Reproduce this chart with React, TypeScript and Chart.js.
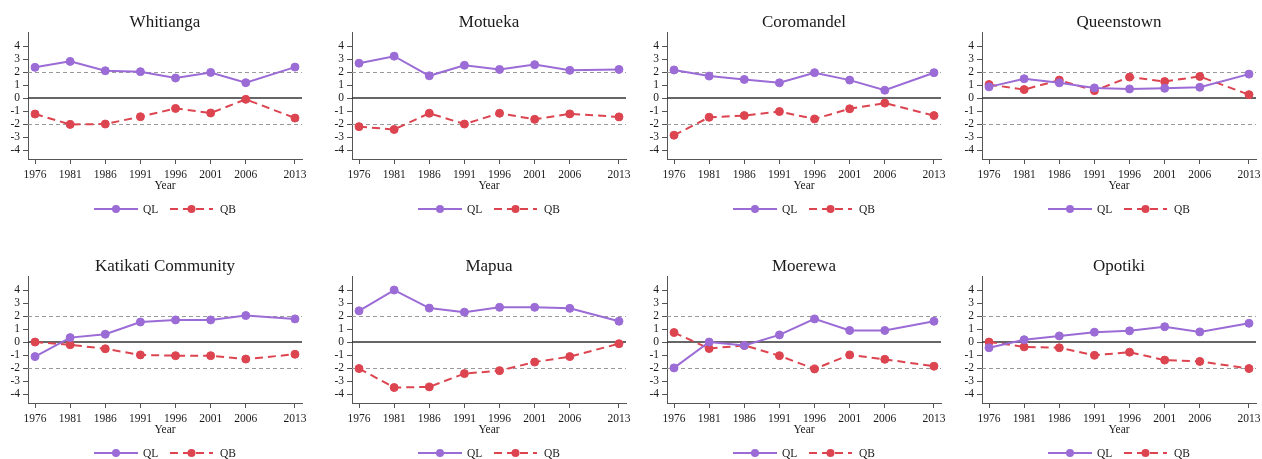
import React, { useEffect, useRef } from "react";
import { Chart, registerables } from "chart.js";

Chart.register(...registerables);

// ---- data ----
const years = [1976, 1981, 1986, 1991, 1996, 2001, 2006, 2013];
const yTickValues = [-4, -3, -2, -1, 0, 1, 2, 3, 4];
const dashedRefs = [-2, 2];
const legendLabels = ["QL", "QB"];
const xTitle = "Year";

const titles = [
  "Whitianga",
  "Motueka",
  "Coromandel",
  "Queenstown",
  "Katikati Community",
  "Mapua",
  "Moerewa",
  "Opotiki",
];

const qlWhitianga = [2.36, 2.82, 2.1, 2.03, 1.54, 1.97, 1.18, 2.38];
const qbWhitianga = [-1.23, -2.03, -2.0, -1.44, -0.8, -1.15, -0.1, -1.54];

const qlMotueka = [2.68, 3.22, 1.71, 2.52, 2.2, 2.57, 2.13, 2.2];
const qbMotueka = [-2.2, -2.42, -1.17, -2.0, -1.17, -1.64, -1.22, -1.45];

const qlCoromandel = [2.16, 1.69, 1.43, 1.17, 1.95, 1.38, 0.6, 1.95];
const qbCoromandel = [-2.86, -1.48, -1.35, -1.04, -1.61, -0.83, -0.39, -1.35];

const qlQueenstown = [0.86, 1.48, 1.17, 0.78, 0.7, 0.75, 0.83, 1.84];
const qbQueenstown = [1.04, 0.65, 1.38, 0.57, 1.61, 1.27, 1.66, 0.26];

const qlKatikati = [-1.12, 0.34, 0.6, 1.54, 1.7, 1.7, 2.04, 1.78];
const qbKatikati = [0, -0.21, -0.52, -0.99, -1.05, -1.05, -1.31, -0.94];

const qlMapua = [2.4, 4.0, 2.61, 2.3, 2.67, 2.67, 2.59, 1.6];
const qbMapua = [-2.04, -3.5, -3.45, -2.43, -2.2, -1.54, -1.12, -0.13];

const qlMoerewa = [-1.99, 0, -0.26, 0.55, 1.78, 0.89, 0.89, 1.6];
const qbMoerewa = [0.73, -0.5, -0.26, -1.05, -2.07, -0.99, -1.33, -1.86];

const qlOpotiki = [-0.44, 0.18, 0.47, 0.76, 0.86, 1.18, 0.78, 1.44];
const qbOpotiki = [0, -0.37, -0.44, -1.02, -0.78, -1.39, -1.49, -2.04];

const qlSeries = [qlWhitianga, qlMotueka, qlCoromandel, qlQueenstown, qlKatikati, qlMapua, qlMoerewa, qlOpotiki];
const qbSeries = [qbWhitianga, qbMotueka, qbCoromandel, qbQueenstown, qbKatikati, qbMapua, qbMoerewa, qbOpotiki];

// ---- styles ----
const PURPLE = "#9b6bd6";
const RED = "#dc4450";
const AXIS = "#555555";
const TEXT = "#1a1a1a";
const FONT_FAMILY = '"Liberation Serif", "Times New Roman", serif';
const QB_DASH = [8, 5];

const CANVAS_W = 315;
const CANVAS_H = 215;
const chartLefts = [28, 352, 667, 982];
const rowTops = [0, 244];
const Y_AXIS_W = 28;
const X_AXIS_H = 34;

function makePlugins(title: string) {
  const refLines = {
    id: "refLines",
    beforeDatasetsDraw(chart: any) {
      const { ctx, chartArea, scales } = chart;
      const y = scales.y;
      ctx.save();
      ctx.lineWidth = 1;
      ctx.strokeStyle = "#9a9a9a";
      ctx.setLineDash([4, 3]);
      dashedRefs.forEach((v) => {
        const py = Math.round(y.getPixelForValue(v)) + 0.5;
        ctx.beginPath();
        ctx.moveTo(chartArea.left, py);
        ctx.lineTo(chartArea.right, py);
        ctx.stroke();
      });
      ctx.setLineDash([]);
      ctx.strokeStyle = "#333333";
      ctx.lineWidth = 1.5;
      const p0 = y.getPixelForValue(0);
      ctx.beginPath();
      ctx.moveTo(chartArea.left, p0);
      ctx.lineTo(chartArea.right, p0);
      ctx.stroke();
      ctx.restore();
    },
  };
  const titleAndLegend = {
    id: "titleLegend",
    afterDraw(chart: any) {
      const { ctx, chartArea } = chart;
      const cx = (chartArea.left + chartArea.right) / 2;
      ctx.save();
      ctx.fillStyle = TEXT;
      ctx.font = `17px ${FONT_FAMILY}`;
      ctx.textAlign = "center";
      ctx.textBaseline = "middle";
      ctx.fillText(title, cx, 22.5);

      const ly = chartArea.bottom + 50;
      const items = [
        { color: PURPLE, dash: [] as number[], x0: cx - 71, x1: cx - 27, tx: cx - 22, label: legendLabels[0] },
        { color: RED, dash: QB_DASH, x0: cx + 5, x1: cx + 48, tx: cx + 55, label: legendLabels[1] },
      ];
      items.forEach((it) => {
        ctx.strokeStyle = it.color;
        ctx.lineWidth = 2;
        ctx.setLineDash(it.dash);
        ctx.beginPath();
        ctx.moveTo(it.x0, ly);
        ctx.lineTo(it.x1, ly);
        ctx.stroke();
        ctx.setLineDash([]);
        ctx.fillStyle = it.color;
        ctx.beginPath();
        ctx.arc((it.x0 + it.x1) / 2, ly, 4, 0, Math.PI * 2);
        ctx.fill();
        ctx.fillStyle = TEXT;
        ctx.font = `11.5px ${FONT_FAMILY}`;
        ctx.textAlign = "left";
        ctx.textBaseline = "middle";
        ctx.fillText(it.label, it.tx, ly + 0.5);
      });
      ctx.restore();
    },
  };
  return [refLines, titleAndLegend];
}

function Panel({ idx }: { idx: number }) {
  const ref = useRef<HTMLCanvasElement | null>(null);
  const col = idx % 4;
  const row = Math.floor(idx / 4);
  useEffect(() => {
    if (!ref.current) return;
    const tickFont = { family: FONT_FAMILY, size: 11.5 };
    const gridOpts = {
      display: true,
      drawOnChartArea: false,
      drawTicks: true,
      tickLength: 5,
      color: AXIS,
      lineWidth: 1,
    };
    const chart = new Chart(ref.current, {
      type: "line",
      data: {
        datasets: [
          {
            label: legendLabels[0],
            data: years.map((x, i) => ({ x, y: qlSeries[idx][i] })),
            borderColor: PURPLE,
            backgroundColor: PURPLE,
            pointBackgroundColor: PURPLE,
            pointBorderColor: PURPLE,
            borderWidth: 2,
            pointRadius: 4,
            pointBorderWidth: 1,
            tension: 0,
          },
          {
            label: legendLabels[1],
            data: years.map((x, i) => ({ x, y: qbSeries[idx][i] })),
            borderColor: RED,
            backgroundColor: RED,
            pointBackgroundColor: RED,
            pointBorderColor: RED,
            borderWidth: 2,
            borderDash: QB_DASH,
            pointRadius: 4,
            pointBorderWidth: 1,
            tension: 0,
          },
        ],
      },
      options: {
        responsive: false,
        animation: false,
        devicePixelRatio: 1,
        layout: { padding: { left: 0, top: 32, right: 13, bottom: CANVAS_H - 32 - 127 - X_AXIS_H } },
        plugins: {
          legend: { display: false },
          title: { display: false },
          tooltip: { enabled: false },
        },
        scales: {
          x: {
            type: "linear",
            min: 1975,
            max: 2014,
            afterBuildTicks: (s: any) => {
              s.ticks = years.map((v) => ({ value: v }));
            },
            afterFit: (s: any) => {
              s.height = X_AXIS_H;
            },
            grid: gridOpts,
            border: { display: true, color: AXIS, width: 1 },
            ticks: {
              padding: 4,
              font: tickFont,
              color: TEXT,
              autoSkip: false,
              maxRotation: 0,
              callback: (v: any) => String(v),
            },
            title: {
              display: true,
              text: xTitle,
              font: { family: FONT_FAMILY, size: 11.5 },
              color: TEXT,
              padding: 0,
            },
          },
          y: {
            type: "linear",
            min: -4.69,
            max: 5.08,
            afterBuildTicks: (s: any) => {
              s.ticks = yTickValues.map((v) => ({ value: v }));
            },
            afterFit: (s: any) => {
              s.width = Y_AXIS_W;
            },
            grid: gridOpts,
            border: { display: true, color: AXIS, width: 1 },
            ticks: {
              padding: 3,
              font: tickFont,
              color: TEXT,
              autoSkip: false,
              callback: (v: any) => String(v),
            },
          },
        },
      } as any,
      plugins: makePlugins(titles[idx]) as any,
    });
    return () => chart.destroy();
  }, [idx]);
  return (
    <canvas
      ref={ref}
      width={CANVAS_W}
      height={CANVAS_H}
      style={{
        position: "absolute",
        left: chartLefts[col] - Y_AXIS_W,
        top: rowTops[row],
        width: CANVAS_W,
        height: CANVAS_H,
      }}
    />
  );
}

export default function App() {
  return (
    <div
      style={{
        position: "absolute",
        left: 0,
        top: 0,
        width: 1262,
        height: 459,
        overflow: "hidden",
        background: "#ffffff",
      }}
    >
      {titles.map((_, i) => (
        <Panel key={i} idx={i} />
      ))}
    </div>
  );
}
